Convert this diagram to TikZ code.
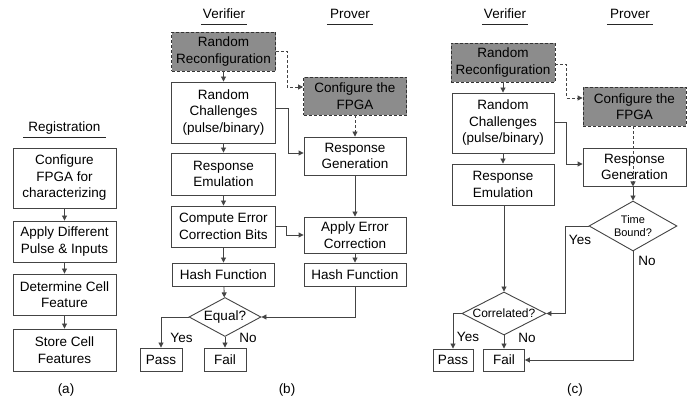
\documentclass[tikz,border=0pt]{standalone}
\usepackage{fontspec}
\setmainfont{Liberation Sans}
\usetikzlibrary{arrows.meta,shapes.geometric}
\definecolor{lc}{RGB}{68,68,68}
\definecolor{gfill}{RGB}{140,140,140}
\newcommand\fsmain{\fontsize{13.5}{16.5}\selectfont}
\newcommand\fssmall{\fontsize{11}{13}\selectfont}
\newcommand\fsmid{\fontsize{12}{14}\selectfont}
\tikzset{
  box/.style={draw=lc, line width=0.9pt, fill=white, align=center, inner sep=0pt, font=\fsmain},
  bx/.style 2 args={minimum width=#1pt, minimum height=#2pt},
  graybox/.style={box, fill=gfill, draw=black!80, dash pattern=on 3pt off 2pt},
  dia/.style={diamond, draw=lc, line width=0.9pt, fill=white, inner sep=0pt, align=center},
  arr/.style={draw=lc, line width=0.9pt, -{Triangle[length=5pt,width=5pt]}},
  darr/.style={arr, dash pattern=on 3pt off 2pt},
  txt/.style={inner sep=0pt, font=\fsmain},
  hdr/.style={inner sep=0pt, font=\fsmain},
  uline/.style={draw=black!85, line width=0.9pt}
}
\begin{document}
\begin{tikzpicture}[x=1pt, y=-1pt]
\useasboundingbox (0,0) rectangle (697,403);
% ---------- panel (a)
\node[hdr, anchor=base] (reg) at (64.5,132) {Registration};
\draw[uline] ([xshift=-5pt,yshift=-5pt]reg.base west) -- ([xshift=5pt,yshift=-5pt]reg.base east);
\node[box, bx={103}{60}] (a1) at (64.5,178) {Configure\\FPGA for\\characterizing};
\node[box, bx={103}{41}] (a2) at (64.5,241.5) {Apply Different\\Pulse \& Inputs};
\node[box, bx={103}{41}] (a3) at (64.5,294.5) {Determine Cell\\Feature};
\node[box, bx={103}{42}] (a4) at (64.5,350) {Store Cell\\Features};
\draw[arr] (a1) -- (a2);
\draw[arr] (a2) -- (a3);
\draw[arr] (a3) -- (a4);
\node[txt] (la) at (66,390) {(a)};
% ---------- panel (b)
\node[hdr, anchor=base] (vb) at (224,19) {Verifier};
\draw[uline] ([xshift=-2pt,yshift=-5pt]vb.base west) -- ([xshift=2pt,yshift=-5pt]vb.base east);
\node[hdr, anchor=base] (pb) at (350,19) {Prover};
\draw[uline] ([xshift=-3pt,yshift=-5pt]pb.base west) -- ([xshift=3pt,yshift=-5pt]pb.base east);
\node[graybox, bx={104}{39}] (brr) at (223.5,51.5) {Random\\Reconfiguration};
\node[box, bx={104}{61}] (brc) at (223.5,112.5) {Random\\Challenges\\(pulse/binary)};
\node[box, bx={104}{42}] (bre) at (223.5,174) {Response\\Emulation};
\node[box, bx={104}{41}] (bcec) at (223.5,226.5) {Compute Error\\Correction Bits};
\node[box, bx={102}{23}] (bhf) at (223.5,274.5) {Hash Function};
\node[dia, bx={72}{39}, aspect=1.85, font=\fsmain] (beq) at (225,317) {Equal?};
\node[box, bx={42}{23}] (bpass) at (161,359.5) {Pass};
\node[box, bx={42}{23}] (bfail) at (225,359.5) {Fail};
\node[graybox, bx={103}{38}] (bcf) at (355,96) {Configure the\\FPGA};
\node[box, bx={102}{38}] (brg) at (355,156) {Response\\Generation};
\node[box, bx={102}{36}] (baec) at (355,235) {Apply Error\\Correction};
\node[box, bx={102}{23}] (bhf2) at (355,274.5) {Hash Function};
\draw[arr] (brr) -- (brc);
\draw[darr] (brr.east) -- ++(11,0) |- ([yshift=9pt]bcf.west);
\draw[darr] (bcf) -- (brg);
\draw[arr] ([yshift=4pt]brc.east) -- ++(12,0) |- ([yshift=3pt]brg.west);
\draw[arr] (brc) -- (bre);
\draw[arr] (bre) -- (bcec);
\draw[arr] (bcec.east) -- ++(10,0) |- (baec.west);
\draw[arr] (brg) -- (baec);
\draw[arr] (bcec) -- (bhf);
\draw[arr] (baec) -- (bhf2);
\draw[arr] (bhf) -- (beq);
\draw[arr] (bhf2.south) |- (beq.east);
\draw[arr] (beq.west) -| (bpass.north);
\draw[arr] (beq) -- (bfail);
\node[txt] (byes) at (181.5,338) {Yes};
\node[txt] (bno) at (248,338) {No};
\node[txt] (lb) at (287,390) {(b)};
% ---------- panel (c)
\node[hdr, anchor=base] (vc) at (505,19) {Verifier};
\draw[uline] ([xshift=-2pt,yshift=-5pt]vc.base west) -- ([xshift=2pt,yshift=-5pt]vc.base east);
\node[hdr, anchor=base] (pc) at (630,19) {Prover};
\draw[uline] ([xshift=-3pt,yshift=-5pt]pc.base west) -- ([xshift=3pt,yshift=-5pt]pc.base east);
\node[graybox, bx={104}{39}] (crr) at (503,62.5) {Random\\Reconfiguration};
\node[box, bx={102}{60}] (crc) at (503,123) {Random\\Challenges\\(pulse/binary)};
\node[box, bx={102}{41}] (cre) at (503,184.5) {Response\\Emulation};
\node[graybox, bx={103}{39}] (ccf) at (634.5,106.5) {Configure the\\FPGA};
\node[box, bx={103}{38}] (crg) at (634.5,167) {Response\\Generation};
\node[dia, bx={88}{50}, aspect=1.76, font=\fssmall] (ctb) at (633,226) {Time\\Bound?};
\node[dia, bx={84}{43}, aspect=1.95, font=\fsmid] (ccor) at (504,313.5) {Correlated?};
\node[box, bx={40}{22}] (cpass) at (453,360) {Pass};
\node[box, bx={41}{22}] (cfail) at (504,360) {Fail};
\draw[arr] (crr) -- (crc);
\draw[darr] ([yshift=-2pt]crr.east) -- ++(11,0) |- ([yshift=8.5pt]ccf.west);
\draw[darr] (ccf.south -| ctb.north) -- (crg.south -| ctb.north) ;
\draw[arr] ([yshift=1pt]crc.east) -- ++(12,0) |- ([yshift=3pt]crg.west);
\draw[arr] (crc) -- (cre);
\draw[arr] (cre.south -| ccor.north) -- (ccor.north);
\draw[arr] (crg.south -| ctb.north) -- (ctb.north);
\draw[arr] (ctb.west) -- ++(-23,0) |- (ccor.east);
\draw[arr] (ctb.south) |- (cfail.east);
\draw[arr] (ccor.west) -| (cpass.north);
\draw[arr] (ccor) -- (cfail);
\node[txt] (cyes1) at (580,240) {Yes};
\node[txt] (cno1) at (647,261) {No};
\node[txt] (cyes2) at (468,337) {Yes};
\node[txt] (cno2) at (527,338) {No};
\node[txt] (lc) at (575,390) {(c)};
\end{tikzpicture}
\end{document}
